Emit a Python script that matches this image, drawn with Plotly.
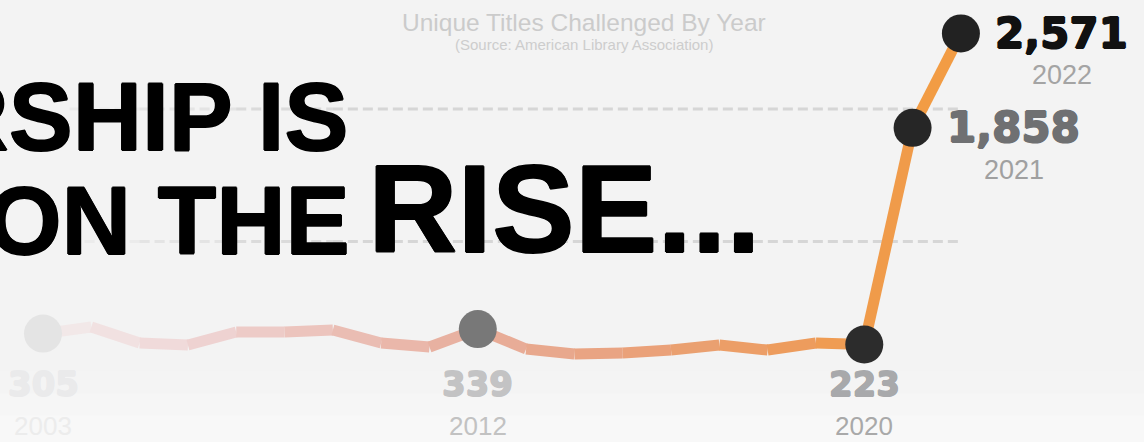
import plotly.graph_objects as go

# ---------------- data ----------------
years = list(range(2003, 2023))
titles_challenged = [305, 355, 234, 219, 317, 317, 332, 234, 204, 339,
                     189, 151, 158, 181, 219, 181, 234, 223, 1858, 2571]

label_years = [2003, 2012, 2020, 2021, 2022]
label_values = ["305", "339", "223", "1,858", "2,571"]
grid_values = [1000, 2000]

chart_title = "Unique Titles Challenged By Year"
chart_source = "(Source: American Library Association)"
headline_1 = "CENSORSHIP IS"
headline_2 = "ON THE"
headline_3 = "RISE..."

# ---------------- styles ----------------
W, H = 1144, 442
BG = "#f3f3f3"
line_color_stops = [(2003, (243, 236, 236)), (2006, (239, 214, 214)), (2009, (235, 192, 184)),
                    (2012, (232, 174, 156)), (2015, (233, 162, 126)), (2018, (236, 157, 98)),
                    (2020, (240, 155, 78)), (2022, (242, 156, 64))]
dot_colors = ["#e4e4e4", "#787878", "#2c2c2c", "#262626", "#222222"]
value_colors = ["#eaeaeb", "#c3c3c4", "#a8a9ab", "#6f7072", "#111111"]
year_colors = ["#ececec", "#c2c2c2", "#a9a9a9", "#a0a0a0", "#a4a4a4"]
below_label = [True, True, True, False, False]

# axis mapping (pixel geometry of the reference)
x_range = [2002.11, 2025.79]
y_range = [-513, 2823]


def color_at(yr):
    for (y0, c0), (y1, c1) in zip(line_color_stops[:-1], line_color_stops[1:]):
        if y0 <= yr <= y1:
            t = (yr - y0) / (y1 - y0)
            c = [round(a + (b - a) * t) for a, b in zip(c0, c1)]
            return "rgb(%d,%d,%d)" % tuple(c)
    return "rgb(%d,%d,%d)" % line_color_stops[-1][1]


def thick(color, d=0.7):
    return ", ".join("%gpx %gpx 0 %s" % (dx, dy, color)
                     for dx, dy in [(d, 0), (-d, 0), (0, d), (0, -d)])


fig = go.Figure()

# subtle lighter fog at the bottom
for k, op in enumerate([0.15, 0.2, 0.25]):
    fig.add_shape(type="rect", xref="paper", yref="paper", x0=0, x1=1,
                  y0=0, y1=0.16 - k * 0.05, fillcolor="#ffffff", opacity=op,
                  line=dict(width=0), layer="below")

# dashed grid lines (fading in from the left)
fade_steps = [(2003.55, 2005.0, 0.25), (2005.0, 2007.0, 0.5), (2007.0, 2009.0, 0.8)]
for gv in grid_values:
    for x0, x1, op in fade_steps:
        fig.add_shape(type="line", xref="x", yref="y", x0=x0, x1=x1, y0=gv, y1=gv,
                      line=dict(color="#d6d6d6", width=3, dash="10px,5px"),
                      opacity=op, layer="below")
    fig.add_shape(type="line", xref="x", yref="y", x0=2009.0, x1=years[-1], y0=gv, y1=gv,
                  line=dict(color="#d6d6d6", width=3, dash="10px,5px"), layer="below")

# gradient line, one segment per year pair
for i in range(len(years) - 1):
    mid = (years[i] + years[i + 1]) / 2
    fig.add_trace(go.Scatter(
        x=[years[i], years[i + 1]], y=[titles_challenged[i], titles_challenged[i + 1]],
        mode="lines", line=dict(color=color_at(mid), width=11),
        hoverinfo="skip", showlegend=False))

# dots
lab_idx = [years.index(y) for y in label_years]
fig.add_trace(go.Scatter(
    x=label_years, y=[titles_challenged[i] for i in lab_idx],
    mode="markers", marker=dict(size=38, color=dot_colors, line=dict(width=0)),
    hoverinfo="skip", showlegend=False))

annotations = []
for k, yr in enumerate(label_years):
    val = titles_challenged[lab_idx[k]]
    if below_label[k]:
        annotations.append(dict(x=yr, y=1 - 384 / H, xref="x", yref="paper",
                                text="<b>%s</b>" % label_values[k], showarrow=False,
                                xanchor="center", yanchor="middle",
                                font=dict(family="DejaVu Sans", size=34, color=value_colors[k],
                                          shadow=thick(value_colors[k]))))
        annotations.append(dict(x=yr, y=1 - 426 / H, xref="x", yref="paper",
                                text=str(yr), showarrow=False,
                                xanchor="center", yanchor="middle",
                                font=dict(family="Liberation Sans", size=26, color=year_colors[k])))
    else:
        annotations.append(dict(x=yr, y=val, xref="x", yref="y",
                                text="<b>%s</b>" % label_values[k], showarrow=False,
                                xanchor="left", yanchor="middle", xshift=32, yshift=0,
                                font=dict(family="DejaVu Sans", size=42, color=value_colors[k],
                                          shadow=thick(value_colors[k], 0.9))))
        annotations.append(dict(x=yr, y=val, xref="x", yref="y",
                                text=str(yr), showarrow=False,
                                xanchor="center", yanchor="middle", xshift=101, yshift=-42,
                                font=dict(family="Liberation Sans", size=27, color=year_colors[k])))

# title and source
annotations.append(dict(x=584 / W, y=1 - 22 / H, xref="paper", yref="paper", text=chart_title,
                        showarrow=False, xanchor="center", yanchor="middle",
                        font=dict(family="Liberation Sans", size=24.5, color="#cbcbcb")))
annotations.append(dict(x=584 / W, y=1 - 45 / H, xref="paper", yref="paper", text=chart_source,
                        showarrow=False, xanchor="center", yanchor="middle",
                        font=dict(family="Liberation Sans", size=15, color="#cdcdcd")))

# headline
annotations.append(dict(x=350 / W, y=1 - 117 / H, xref="paper", yref="paper",
                        text="<b>%s</b>" % headline_1, showarrow=False,
                        xanchor="right", yanchor="middle",
                        font=dict(family="Liberation Sans", size=96, color="#000000",
                                  shadow=thick("#000000", 0.8))))
annotations.append(dict(x=352 / W, y=1 - 220 / H, xref="paper", yref="paper",
                        text="<b>%s</b>" % headline_2, showarrow=False,
                        xanchor="right", yanchor="middle",
                        font=dict(family="Liberation Sans", size=96, color="#000000",
                                  shadow=thick("#000000", 0.8))))
annotations.append(dict(x=366 / W, y=1 - 209 / H, xref="paper", yref="paper",
                        text="<b>%s</b>" % headline_3, showarrow=False,
                        xanchor="left", yanchor="middle",
                        font=dict(family="Liberation Sans", size=124, color="#000000",
                                  shadow=thick("#000000", 0.8))))

fig.update_layout(
    width=W, height=H,
    margin=dict(l=0, r=0, t=0, b=0),
    paper_bgcolor=BG, plot_bgcolor=BG,
    xaxis=dict(range=x_range, visible=False, fixedrange=True),
    yaxis=dict(range=y_range, visible=False, fixedrange=True),
    annotations=annotations,
    showlegend=False,
)

fig.write_html("out.html", config={"displayModeBar": False},
               post_script="document.body.style.margin='0';document.body.style.overflow='hidden';")
